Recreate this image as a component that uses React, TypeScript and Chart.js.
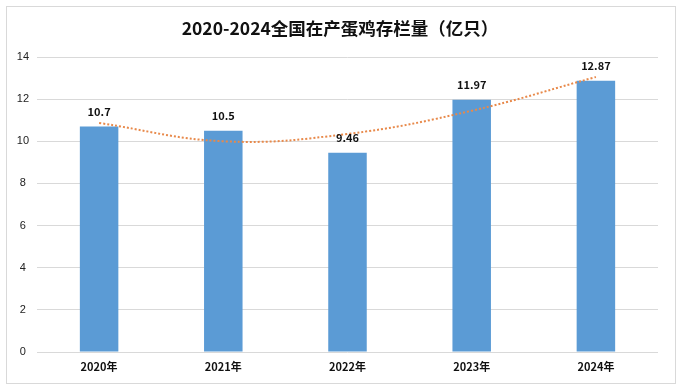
import React, { useEffect, useRef } from "react";
import { Chart, registerables } from "chart.js";

Chart.register(...registerables);

const title = "2020-2024全国在产蛋鸡存栏量（亿只）";
const categories = ["2020年", "2021年", "2022年", "2023年", "2024年"];
const stockValues = [10.7, 10.5, 9.46, 11.97, 12.87];
const trendValues = [10.87, 10.0, 10.35, 11.45, 13.05];
const yTicks = [0, 2, 4, 6, 8, 10, 12, 14];

const FONT = "'Noto Sans CJK SC', 'Liberation Sans', sans-serif";

const framePlugin = {
  id: "frame",
  beforeDraw(chart: any) {
    const ctx = chart.ctx;
    ctx.save();
    ctx.fillStyle = "#ffffff";
    ctx.fillRect(0, 0, chart.width, chart.height);
    ctx.strokeStyle = "#d9d9d9";
    ctx.lineWidth = 1;
    ctx.strokeRect(6.5, 6.5, chart.width - 13, chart.height - 14);
    ctx.fillStyle = "#111111";
    ctx.font = `bold 17.5px ${FONT}`;
    ctx.textAlign = "center";
    ctx.textBaseline = "middle";
    ctx.fillText(title, chart.width / 2 - 1, 28);
    ctx.restore();
  },
  afterDatasetsDraw(chart: any) {
    const ctx = chart.ctx;
    const meta = chart.getDatasetMeta(1);
    ctx.save();
    ctx.fillStyle = "#111111";
    ctx.font = `bold 11px ${FONT}`;
    ctx.textAlign = "center";
    ctx.textBaseline = "middle";
    meta.data.forEach((bar: any, i: number) => {
      ctx.fillText(String(stockValues[i]), bar.x, bar.y - 15);
    });
    ctx.restore();
  },
};

export default function App() {
  const ref = useRef<HTMLCanvasElement>(null);
  useEffect(() => {
    document.body.style.margin = "0";
    const chart = new Chart(ref.current!, {
      type: "bar",
      data: {
        labels: categories,
        datasets: [
          {
            type: "line",
            label: "趋势",
            data: trendValues,
            borderColor: "#e8894a",
            borderWidth: 2,
            borderDash: [2, 2],
            pointRadius: 0,
            tension: 0.4,
            fill: false,
            order: 0,
          } as any,
          {
            type: "bar",
            label: "存栏量",
            data: stockValues,
            backgroundColor: "#5b9bd5",
            barPercentage: 0.62,
            categoryPercentage: 0.5,
            order: 1,
          },
        ],
      },
      options: {
        responsive: false,
        animation: false,
        layout: { padding: { top: 57, left: 2, right: 24, bottom: 0 } },
        plugins: {
          legend: { display: false },
          title: { display: false },
          tooltip: { enabled: false },
        },
        scales: {
          x: {
            grid: { display: false },
            border: { display: false },
            ticks: {
              color: "#111111",
              font: { family: FONT, size: 11, weight: "bold" },
              padding: 0,
            },
            afterFit(scale: any) {
              scale.height = 39;
            },
          },
          y: {
            min: 0,
            max: 14,
            afterBuildTicks(scale: any) {
              scale.ticks = yTicks.map((v) => ({ value: v }));
            },
            grid: { color: "#d9d9d9", lineWidth: 1, drawTicks: false },
            border: { display: false },
            ticks: {
              color: "#222222",
              font: { family: "'Liberation Sans', sans-serif", size: 11 },
              crossAlign: "center",
              padding: 8,
            },
            afterFit(scale: any) {
              scale.width = 35;
            },
          },
        },
      },
      plugins: [framePlugin],
    });
    return () => chart.destroy();
  }, []);
  return <canvas ref={ref} width={682} height={391} style={{ display: "block" }} />;
}
